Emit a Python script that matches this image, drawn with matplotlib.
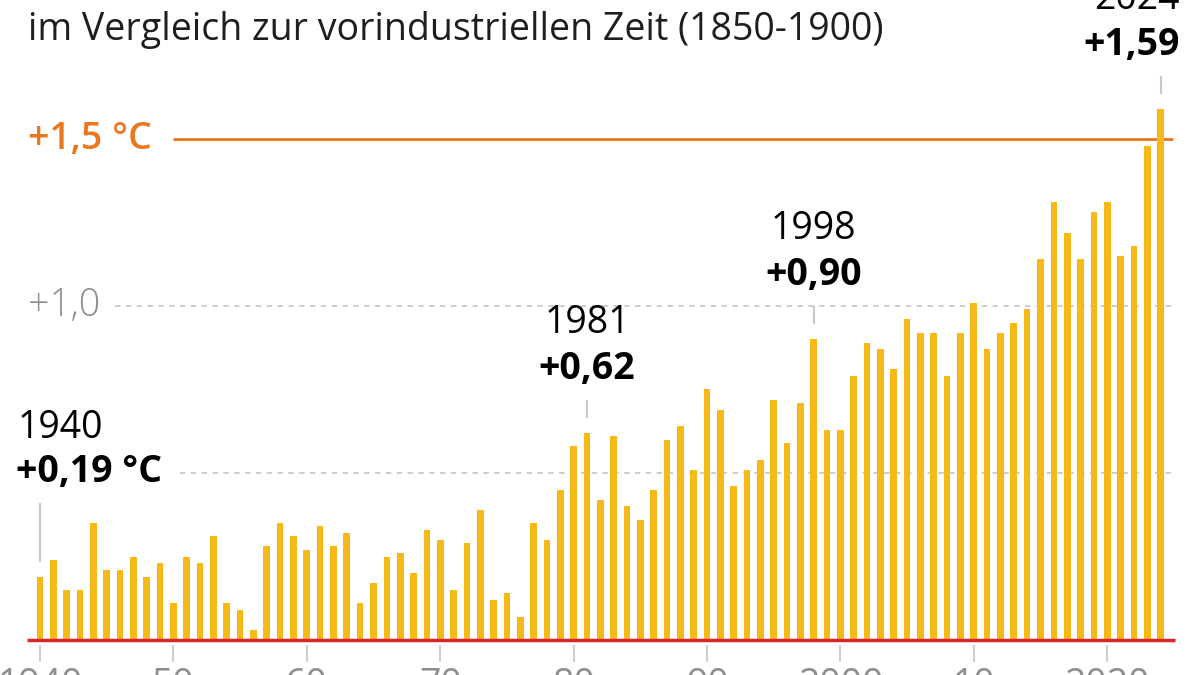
import matplotlib.pyplot as plt

plt.rcParams['font.family'] = ['Open Sans', 'DejaVu Sans']

# global temperature anomaly vs. 1850-1900, in °C
years = list(range(1940, 2025))
anomaly = [
    0.19, 0.24, 0.15, 0.15, 0.35, 0.21, 0.21, 0.25, 0.19, 0.23,  # 1940-49
    0.11, 0.25, 0.23, 0.31, 0.11, 0.09, 0.03, 0.28, 0.35, 0.31,  # 1950-59
    0.27, 0.34, 0.28, 0.32, 0.11, 0.17, 0.25, 0.26, 0.20, 0.33,  # 1960-69
    0.30, 0.15, 0.29, 0.39, 0.12, 0.14, 0.07, 0.35, 0.30, 0.45,  # 1970-79
    0.58, 0.62, 0.42, 0.61, 0.40, 0.36, 0.45, 0.60, 0.64, 0.51,  # 1980-89
    0.75, 0.69, 0.46, 0.51, 0.54, 0.72, 0.59, 0.71, 0.90, 0.63,  # 1990-99
    0.63, 0.79, 0.89, 0.87, 0.81, 0.96, 0.92, 0.92, 0.79, 0.92,  # 2000-09
    1.01, 0.87, 0.92, 0.95, 0.99, 1.14, 1.31, 1.22, 1.14, 1.28,  # 2010-19
    1.31, 1.15, 1.18, 1.48, 1.59,                                # 2020-24
]

tick_years = [1940, 1950, 1960, 1970, 1980, 1990, 2000, 2010, 2020]
tick_labels = ['1940', '50', '60', '70', '80', '90', '2000', '10', '2020']

annot_years = [1940, 1981, 1998, 2024]
annot_values = ['+0,19 °C', '+0,62', '+0,90', '+1,59']

subtitle = 'im Vergleich zur vorindustriellen Zeit (1850-1900)'

BAR = '#F7B918'
ORANGE = '#E8771F'
RED = '#D9252D'
GRID = '#C9C9C9'
GREY_TXT = '#8E8E8E'
FS = 27

# pixel layout: 1940 sits at x=40px, 13.34 px per year; zero line at y=640px, 334 px per °C
PXY = 13.34
X0 = 1940 - 40 / PXY
PXV = 334.0


def px_x(p):
    return X0 + p / PXY


def px_v(p):
    return (640 - p) / PXV


fig = plt.figure(figsize=(12, 6.75), dpi=100)
ax = fig.add_axes([0, 0, 1, 1])
ax.set_xlim(X0, X0 + 1200 / PXY)
ax.set_ylim(px_v(675), px_v(0))
ax.axis('off')

ax.bar(years, anomaly, width=0.5, color=BAR, zorder=3)

# reference lines
ax.hlines(0, px_x(27), px_x(1175), color=RED, lw=2.5, zorder=4)
ax.hlines(1.0, px_x(115), px_x(1175), color=GRID, lw=1.3, linestyles=(0, (3, 3)), zorder=1)
ax.hlines(0.5, px_x(180), px_x(1175), color=GRID, lw=1.3, linestyles=(0, (3, 3)), zorder=1)
ax.hlines(1.5, px_x(173), px_x(1173), color=ORANGE, lw=2, zorder=2)

ax.text(px_x(28), 1.5, '+1,5 °C', color=ORANGE, fontsize=FS, fontweight='semibold',
        ha='left', va='center')
ax.text(px_x(28), 1.0, '+1,0', color=GREY_TXT, fontsize=FS, fontweight='light',
        ha='left', va='center')

# x ticks (cut by the bottom edge like in the source)
ax.vlines(tick_years, px_v(645), px_v(662), color=GRID, lw=1.3)
for ty, tl in zip(tick_years, tick_labels):
    ax.text(ty, px_v(696), tl, color=GREY_TXT, fontsize=FS, ha='center', va='baseline')

# annotations
vals = dict(zip(years, anomaly))
for ay, av in zip(annot_years, annot_values):
    top = vals[ay]
    if ay == 1940:
        ax.vlines(ay, top + 15 / PXV, top + 74 / PXV, color=GRID, lw=1.5)
        ax.text(px_x(16), px_v(472), av, fontsize=FS, fontweight='bold', ha='left', va='center')
        ax.text(px_x(18), px_v(428), str(ay), fontsize=FS, ha='left', va='center')
        continue
    ax.vlines(ay, top + 15 / PXV, top + 33 / PXV, color=GRID, lw=1.5)
    if ay == 2024:
        ha, tx = 'right', px_x(1180)
    else:
        ha, tx = 'center', ay
    ax.text(tx, top + 64 / PXV, av, fontsize=FS, fontweight='bold', ha=ha, va='center')
    ax.text(tx, top + 110 / PXV, str(ay), fontsize=FS, ha=ha, va='center')

fig.text(28 / 1200, 1 - 30 / 675, subtitle, fontsize=FS, ha='left', va='center', color='#1e1e1e')

fig.savefig('out.png', dpi=100)
